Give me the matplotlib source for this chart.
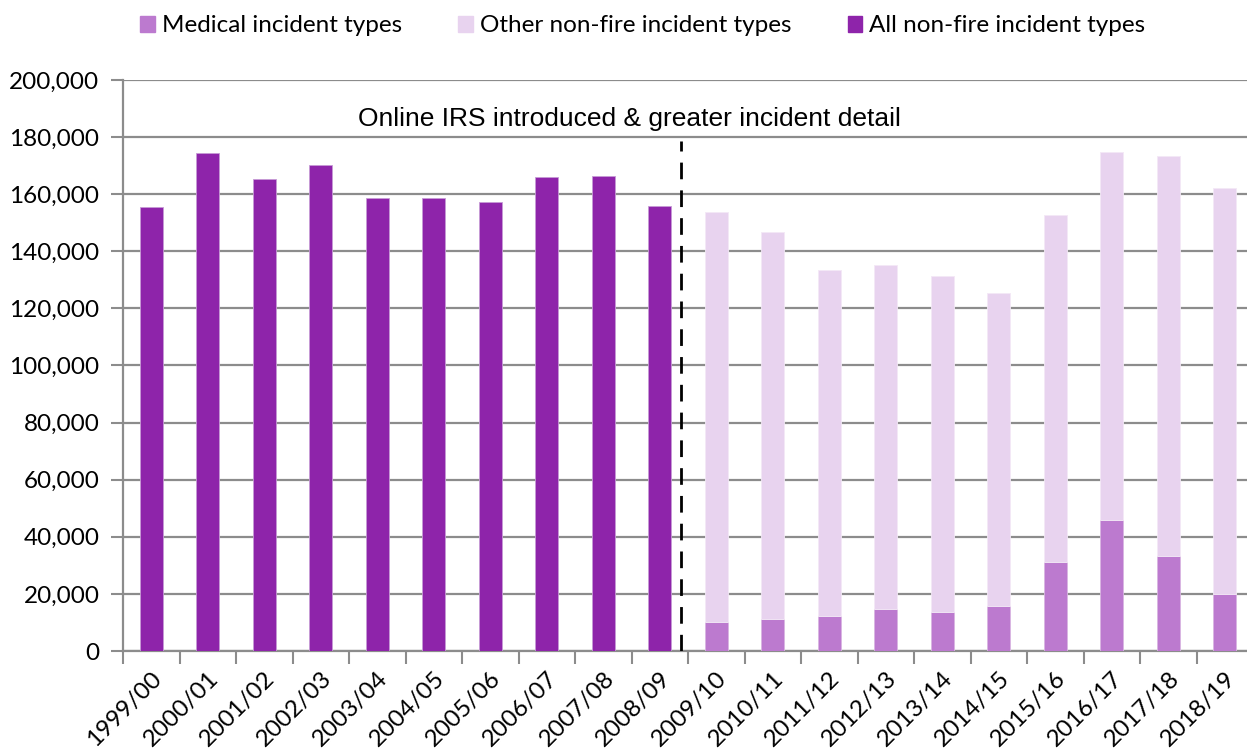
import numpy as np
import matplotlib.pyplot as plt
from matplotlib.patches import Patch

# Datos
anios = ["1999/00", "2000/01", "2001/02", "2002/03", "2003/04", "2004/05",
         "2005/06", "2006/07", "2007/08", "2008/09", "2009/10", "2010/11",
         "2011/12", "2012/13", "2013/14", "2014/15", "2015/16", "2016/17",
         "2017/18", "2018/19"]
# total de incidentes no-fuego antes de 2009/10
todos = [155400, 174500, 165200, 170300, 158600, 158600, 157200, 166100, 166400, 155800]
# desde 2009/10: medicos y otros (total)
medicos = [10100, 11300, 12200, 14700, 13600, 15700, 31300, 45800, 33300, 19900]
totales = [153900, 146800, 133600, 135200, 131500, 125300, 152800, 174700, 173300, 162200]
otros = [t - m for t, m in zip(totales, medicos)]

c_todos = "#8E24AA"
c_med = "#BC7ACF"
c_otros = "#E8D3EF"

plt.rcParams['font.family'] = ['Lato', 'DejaVu Sans']

fig = plt.figure(figsize=(12.47, 7.49), dpi=100)
ax = fig.add_axes([123/1247, 98/749, 1130/1247, 571/749])

x = np.arange(len(anios))
n1 = len(todos)
w = 0.4
ax.bar(x[:n1], todos, w, color=c_todos, edgecolor="#C79BD6", linewidth=0.6, zorder=3)
ax.bar(x[n1:], medicos, w, color=c_med, edgecolor="#D9B6E2", linewidth=0.6, zorder=3)
ax.bar(x[n1:], otros, w, bottom=medicos, color=c_otros, edgecolor="#F3E8F6", linewidth=0.6, zorder=3)

ax.set_xlim(-0.5, len(anios) - 0.5)
ax.set_ylim(0, 200000)
ax.set_yticks(np.arange(0, 200001, 20000))
ax.set_yticklabels([f"{v:,}" for v in range(0, 200001, 20000)], fontsize=17.5)
ax.yaxis.grid(True, color="#8C8C8C", linewidth=1.6, zorder=0)

ax.set_xticks(x)
ax.set_xticklabels(anios, rotation=45, ha="right", va="top", rotation_mode="anchor", fontsize=17.5)
ax.set_xticks(np.arange(-0.5, len(anios), 1), minor=True)
ax.tick_params(axis="x", which="major", length=0, pad=12)
ax.tick_params(axis="x", which="minor", length=9, width=1.5, color="#8C8C8C")
ax.tick_params(axis="y", length=9, width=1.5, color="#8C8C8C", pad=8)

for s in ["top", "right"]:
    ax.spines[s].set_visible(False)
for s in ["left", "bottom"]:
    ax.spines[s].set_color("#8C8C8C")
    ax.spines[s].set_linewidth(1.6)

# linea de cambio en el sistema
ax.plot([9.38, 9.38], [0, 178500], color="black", linestyle=(0, (6, 4)), linewidth=2, zorder=4)
ax.text(8.47, 186300, "Online IRS introduced & greater incident detail",
        ha="center", va="center", fontsize=19, family=["Liberation Sans", "DejaVu Sans"])

handles = [Patch(color=c_med, label="Medical incident types"),
           Patch(color=c_otros, label="Other non-fire incident types"),
           Patch(color=c_todos, label="All non-fire incident types")]
fig.legend(handles=handles, loc="center", bbox_to_anchor=(643/1247, 1 - 26/749), ncol=3,
           frameon=False, fontsize=17.5, handlelength=0.6, handleheight=0.6,
           handletextpad=0.3, columnspacing=2.3)

fig.savefig("out.png", dpi=100)
